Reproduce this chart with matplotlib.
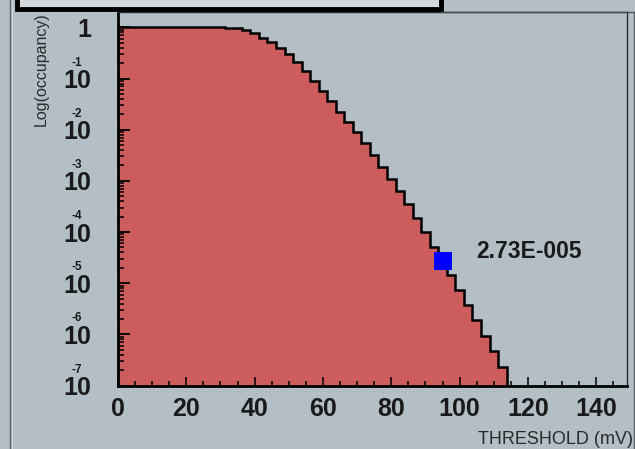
import numpy as np
import matplotlib
matplotlib.use("Agg")
import matplotlib.pyplot as plt
from matplotlib.patches import Rectangle
from matplotlib.lines import Line2D
from matplotlib.ticker import FixedLocator, MultipleLocator, LogLocator, NullFormatter, FuncFormatter

# ---------------- data ----------------
threshold_mv = [0.0, 2.5, 5.0, 7.5, 10.0, 12.5, 15.0, 17.5, 20.0, 22.5, 25.0, 27.5, 30.0,
                32.5, 35.0, 37.5, 40.0, 42.5, 45.0, 47.5, 50.0, 52.5, 55.0, 57.5, 60.0,
                62.5, 65.0, 67.5, 70.0, 72.5, 75.0, 77.5, 80.0, 82.5, 85.0, 87.5, 90.0,
                92.5, 95.0, 97.5, 100.0, 102.5, 105.0, 107.5, 110.0, 112.5, 115.0, 117.5,
                120.0, 122.5, 125.0, 127.5, 130.0, 132.5, 135.0, 137.5, 140.0, 142.5,
                145.0, 147.5, 150.0]
occupancy = [1.0, 1.0, 1.0, 1.0, 1.0, 1.0, 1.0, 1.0, 1.0, 1.0, 1.0, 1.0, 1.0,
             0.98, 0.96, 0.87, 0.76, 0.634, 0.518, 0.404, 0.301, 0.210, 0.140, 0.0913, 0.0582,
             0.0362, 0.0226, 0.0144, 0.00896, 0.00545, 0.00325, 0.00189, 0.00110, 6.27e-4,
             3.49e-4, 1.86e-4, 9.86e-5, 5.09e-5, 2.73e-5, 1.42e-5, 7.23e-6, 3.67e-6, 1.87e-6,
             9.29e-7, 4.62e-7, 2.28e-7, 0, 0, 0, 0, 0, 0, 0, 0, 0, 0, 0, 0, 0, 0, 0]
bin_width = 2.5

marker_threshold = 95.0
marker_value = 2.73e-5
marker_label = "2.73E-005"

x_major_ticks = [0, 20, 40, 60, 80, 100, 120, 140]
y_exponents = [0, -1, -2, -3, -4, -5, -6, -7]

x_title = "THRESHOLD (mV)"
y_title = "Log(occupancy)"

# ---------------- styling ----------------
W, H = 635, 449
bg = "#b3bec5"
fill_col = "#cd5c5c"
plt.rcParams["font.family"] = ["Liberation Sans", "DejaVu Sans"]

fig = plt.figure(figsize=(W / 100, H / 100), dpi=100, facecolor=bg)

def fx(px):
    return px / W

def fy(py):
    return 1 - py / H

ax_l, ax_r, ax_t, ax_b = 118, 627, 12, 385.5
ax = fig.add_axes([fx(ax_l), fy(ax_b), fx(ax_r - ax_l), (ax_b - ax_t) / H])
ax.set_facecolor(bg)
ax.set_axisbelow(False)
ax.set_yscale("log")
ax.set_xlim(0, 149)
ax.set_ylim(1e-7, 2.0)

x = np.array(threshold_mv)
v = np.array(occupancy, dtype=float)
edges = np.append(x - bin_width / 2, x[-1] + bin_width / 2)
v_plot = np.where(v > 0, v, 1e-10)

ax.stairs(v_plot, edges, fill=True, color=fill_col, baseline=1e-10, zorder=1.5)
ax.stairs(v_plot, edges, fill=False, color="black", linewidth=1.8, baseline=None, zorder=3)

ax.plot([marker_threshold], [marker_value], marker="s", markersize=13, color="#0000ff",
        markeredgewidth=0, linestyle="none", zorder=5)
ax.annotate(marker_label, xy=(marker_threshold, marker_value), xytext=(24, 6.5),
            textcoords="offset points", ha="left", va="center", fontsize=16.5,
            fontweight="bold", color="#1a1a1a", zorder=6)

# spines
for s in ["top", "right"]:
    ax.spines[s].set_linewidth(1.0)
    ax.spines[s].set_color("#2a2a2a")
for s in ["left", "bottom"]:
    ax.spines[s].set_linewidth(2.0)
    ax.spines[s].set_color("black")
for s in ax.spines.values():
    s.set_zorder(4)

# x ticks
ax.xaxis.set_major_locator(FixedLocator(x_major_ticks))
ax.xaxis.set_minor_locator(MultipleLocator(5))
ax.tick_params(axis="x", which="major", direction="in", length=6.5, width=1.1,
               color="black", pad=8, labelsize=18, top=False)
ax.tick_params(axis="x", which="minor", direction="in", length=3.6, width=1.1,
               color="black", top=False)
for lab in ax.get_xticklabels():
    lab.set_fontweight("bold")
    lab.set_color("#1a1a1a")

# y ticks
ax.yaxis.set_major_locator(FixedLocator([10.0 ** e for e in y_exponents]))
ax.yaxis.set_minor_locator(LogLocator(base=10, subs=np.arange(2, 10), numticks=20))
ax.yaxis.set_minor_formatter(NullFormatter())
ax.yaxis.set_major_formatter(FuncFormatter(lambda val, pos: "1" if abs(val - 1) < 1e-9 else "10"))
ax.tick_params(axis="y", which="major", direction="in", length=8.6, width=1.3,
               color="black", pad=19, labelsize=18, right=False)
ax.tick_params(axis="y", which="minor", direction="in", length=4.3, width=1.1,
               color="black", right=False)
for lab in ax.get_yticklabels():
    lab.set_fontweight("bold")
    lab.set_color("#1a1a1a")

# exponent superscripts
for e in y_exponents:
    if e == 0:
        continue
    ax.annotate(str(e), xy=(0, 10.0 ** e), xycoords=("axes fraction", "data"),
                xytext=(-(ax_l - 77) * 0.72, 11.5), textcoords="offset points",
                ha="center", va="center", fontsize=8.5, fontweight="bold",
                color="#1a1a1a", annotation_clip=False)

# axis titles
fig.text(fx(41), fy(12), y_title, rotation=90, ha="center", va="top",
         fontsize=11.5, color="#2a2a2a")
fig.text(fx(633), fy(439), x_title, ha="right", va="center",
         fontsize=13, color="#2a2a2a")

# pad frame and cut-off title box
fig.add_artist(Line2D([fx(10), fx(10)], [0, 1], color="#5f666b", linewidth=1.0))
fig.add_artist(Line2D([fx(12), fx(12)], [0, 1], color="#d0d6da", linewidth=0.8))
fig.add_artist(Line2D([fx(634), fx(634)], [0, fy(12)], color="#5f666b", linewidth=1.0))
fig.add_artist(Line2D([fx(441), 1], [fy(12), fy(12)], color="#4a4f53", linewidth=1.0))
fig.add_artist(Rectangle((fx(17), fy(9)), fx(441 - 17), 0.05, facecolor="#d5d9dc",
                         edgecolor="black", linewidth=3.5))

fig.savefig("out.png", dpi=100, facecolor=bg)
